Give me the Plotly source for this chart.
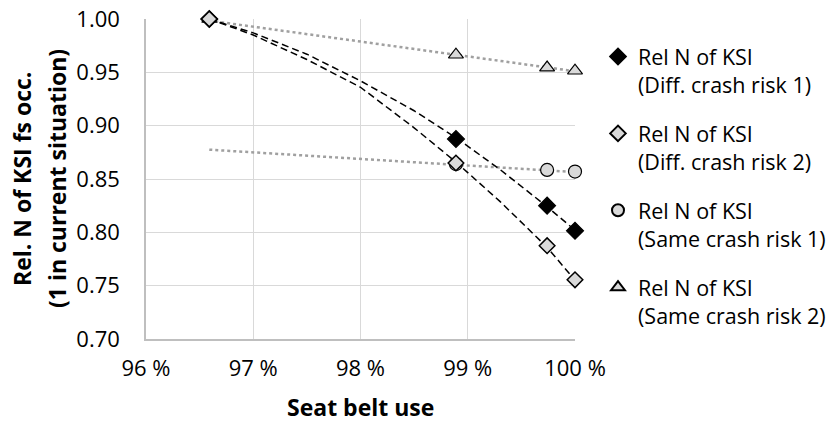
import plotly.graph_objects as go

# ---- data ----
belt_use = [96.59, 98.89, 99.74, 100.0]          # seat belt use (%)
diff_risk_1 = [1.000, 0.8875, 0.825, 0.8015]
diff_risk_2 = [1.000, 0.865, 0.7875, 0.7555]
same_belt = [98.89, 99.74, 100.0]
same_risk_1 = [0.864, 0.8585, 0.857]
same_risk_2_x = [96.59, 98.89, 99.74, 100.0]
same_risk_2 = [1.000, 0.9665, 0.9545, 0.9515]

# trendlines
trend_x = [96.59, 97.0, 97.5, 98.0, 98.5, 98.9, 99.3, 99.74, 100.0]
trend_diff_1 = [1.000, 0.987, 0.967, 0.942, 0.914, 0.888, 0.859, 0.824, 0.802]
trend_diff_2 = [1.000, 0.985, 0.962, 0.936, 0.898, 0.865, 0.829, 0.786, 0.755]
trend_same_x = [96.59, 100.0]
trend_same_1 = [0.8775, 0.8565]
trend_same_2 = [0.9985, 0.951]

names = ["Rel N of KSI<br>(Diff. crash risk 1)", "Rel N of KSI<br>(Diff. crash risk 2)",
         "Rel N of KSI<br>(Same crash risk 1)", "Rel N of KSI<br>(Same crash risk 2)"]
x_ticks = [96, 97, 98, 99, 100]
y_ticks = [0.70, 0.75, 0.80, 0.85, 0.90, 0.95, 1.00]
y_title = ["Rel. N of KSI fs occ.", "(1 in current situation)"]
x_title = "Seat belt use"

FONT = "Open Sans"
W, H = 833, 423
ML, MR, MT, MB = 146, 258, 19, 84
PW, PH = W - ML - MR, H - MT - MB
fig = go.Figure()

# trendlines
dot = dict(color="#a0a0a0", width=2.5, dash="dot")
dsh = dict(color="black", width=1.5, dash="7px,4px")
fig.add_trace(go.Scatter(x=trend_same_x, y=trend_same_1, mode="lines", showlegend=False,
                         line=dot, hoverinfo="skip"))
fig.add_trace(go.Scatter(x=trend_same_x, y=trend_same_2, mode="lines", showlegend=False,
                         line=dot, hoverinfo="skip"))
fig.add_trace(go.Scatter(x=trend_x, y=trend_diff_1, mode="lines", showlegend=False,
                         line=dsh, hoverinfo="skip"))
fig.add_trace(go.Scatter(x=trend_x, y=trend_diff_2, mode="lines", showlegend=False,
                         line=dsh, hoverinfo="skip"))

# markers
fig.add_trace(go.Scatter(x=same_risk_2_x, y=same_risk_2, mode="markers", name=names[3],
                         legendgroup="d", legendrank=4, cliponaxis=False,
                         marker=dict(symbol="triangle-up", size=13, color="#d9d9d9",
                                     line=dict(color="black", width=1.2))))
fig.add_trace(go.Scatter(x=same_belt, y=same_risk_1, mode="markers", name=names[2],
                         legendgroup="c", legendrank=3, cliponaxis=False,
                         marker=dict(symbol="circle", size=13, color="#d9d9d9",
                                     line=dict(color="black", width=1.2))))
fig.add_trace(go.Scatter(x=belt_use, y=diff_risk_1, mode="markers", name=names[0],
                         legendgroup="a", legendrank=1, cliponaxis=False,
                         marker=dict(symbol="diamond", size=13, color="black",
                                     line=dict(color="black", width=1.2))))
fig.add_trace(go.Scatter(x=belt_use, y=diff_risk_2, mode="markers", name=names[1],
                         legendgroup="b", legendrank=2, cliponaxis=False,
                         marker=dict(symbol="diamond", size=12, color="#d9d9d9",
                                     line=dict(color="black", width=1.5))))

annotations = []
for txt, xpx in zip(y_title, [22, 57]):
    annotations.append(dict(text=f"<b>{txt}</b>", textangle=-90, showarrow=False,
                            xref="paper", yref="paper",
                            x=(xpx - ML) / PW, y=0.5,
                            xanchor="center", yanchor="middle",
                            font=dict(family=FONT, size=23, color="black")))
annotations.append(dict(text=f"<b>{x_title}</b>", showarrow=False,
                        xref="paper", yref="paper", x=0.5, y=-(425 - (H - MB)) / PH,
                        xanchor="center", yanchor="bottom",
                        font=dict(family=FONT, size=23, color="black")))

fig.update_layout(
    width=W, height=H,
    margin=dict(l=ML, r=MR, t=MT, b=MB, autoexpand=False),
    paper_bgcolor="white", plot_bgcolor="white",
    font=dict(family=FONT, size=22, color="black"),
    annotations=annotations,
    legend=dict(x=(598 - ML) / PW, y=1 - (36 - MT) / PH,
                xanchor="left", yanchor="top", valign="top",
                traceorder="grouped", tracegroupgap=18,
                font=dict(family=FONT, size=21.5), itemsizing="constant"),
    xaxis=dict(range=[96, 100], tickvals=x_ticks, ticktext=[f"{v} %" for v in x_ticks],
               showgrid=True, gridcolor="#d9d9d9", gridwidth=1.3,
               showline=True, linecolor="#bfbfbf", linewidth=1.5,
               zeroline=False, ticks="", ticklabelstandoff=9),
    yaxis=dict(range=[0.70, 1.00], tickvals=y_ticks, ticktext=[f"{v:.2f}" for v in y_ticks],
               showgrid=True, gridcolor="#d9d9d9", gridwidth=1.3,
               showline=True, linecolor="#bfbfbf", linewidth=1.5,
               zeroline=False, ticks="", ticklabelstandoff=20),
)

fig.write_html("out.html")
